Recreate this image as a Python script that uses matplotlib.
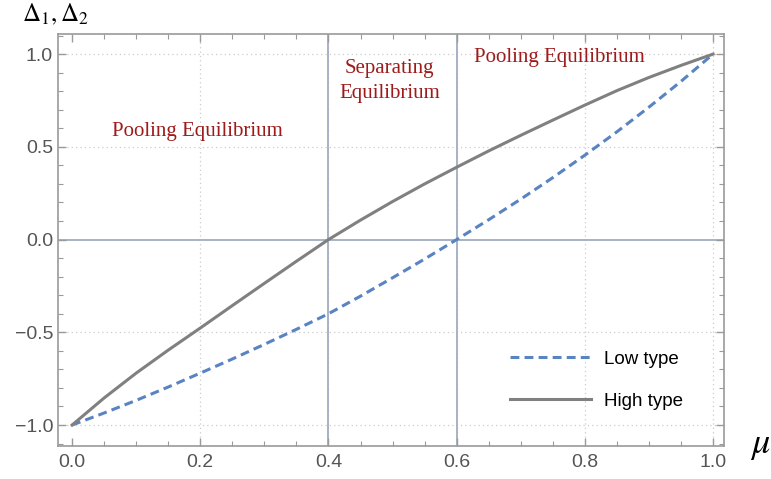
import matplotlib
matplotlib.use("Agg")
import matplotlib.pyplot as plt
from matplotlib.ticker import MultipleLocator

plt.rcParams["mathtext.fontset"] = "stix"

# values (mu on x axis)
mu = [0.0, 0.05, 0.1, 0.15, 0.2, 0.25, 0.3, 0.35, 0.4, 0.45, 0.5,
      0.55, 0.6, 0.65, 0.7, 0.75, 0.8, 0.85, 0.9, 0.95, 1.0]
high_type = [-1.0, -0.854, -0.72, -0.596, -0.477, -0.356, -0.236, -0.117, 0.0, 0.105, 0.205,
             0.30, 0.39, 0.478, 0.562, 0.644, 0.725, 0.803, 0.874, 0.939, 1.0]
low_type = [-1.0, -0.935, -0.867, -0.795, -0.72, -0.644, -0.565, -0.484, -0.40, -0.305, -0.206,
            -0.105, 0.0, 0.107, 0.218, 0.334, 0.455, 0.581, 0.714, 0.853, 1.0]
thresholds = [0.4, 0.6]
region_labels = ["Pooling Equilibrium", "Separating\nEquilibrium", "Pooling Equilibrium"]
region_pos = [(0.195, 0.58), (0.495, 0.855), (0.76, 0.98)]

frame_col = "#9a9a9a"
tick_col = "#555555"
line_col = "#a7b3c4"
red = "#9e1b1b"
sans = ["Liberation Sans", "DejaVu Sans"]
serif = ["Liberation Serif", "DejaVu Serif"]

fig = plt.figure(figsize=(7.71, 4.79), dpi=100)
ax = fig.add_axes([0.0752, 0.0689, 0.8638, 0.860])

ax.set_xlim(-0.022, 1.017)
ax.set_ylim(-1.113, 1.108)

# dotted grid
for gx in [0.2, 0.4, 0.6, 0.8, 1.0]:
    ax.axvline(gx, color="#cccccc", lw=0.9, ls=(0, (1, 2.5)), zorder=0)
for gy in [-1.0, -0.5, 0.5, 1.0]:
    ax.axhline(gy, color="#cccccc", lw=0.9, ls=(0, (1, 2.5)), zorder=0)

ax.axhline(0, color=line_col, lw=1.4, zorder=1)
for t in thresholds:
    ax.axvline(t, color=line_col, lw=1.4, zorder=1)

ax.plot(mu, low_type, color="#5a83c2", lw=2.2, ls=(0, (2.9, 1.7)), label="Low type", zorder=3)
ax.plot(mu, high_type, color="#808080", lw=2.2, label="High type", zorder=3)

for txt, (tx, ty) in zip(region_labels, region_pos):
    ax.text(tx, ty, txt, color=red, family=serif, fontsize=15, ha="center", va="center",
            linespacing=1.4)

ax.set_xticks([0.0, 0.2, 0.4, 0.6, 0.8, 1.0])
ax.set_yticks([-1.0, -0.5, 0.0, 0.5, 1.0])
ax.xaxis.set_minor_locator(MultipleLocator(0.05))
ax.yaxis.set_minor_locator(MultipleLocator(0.1))
ax.tick_params(which="both", direction="in", top=True, right=True, color=frame_col,
               labelcolor=tick_col, labelsize=14)
ax.tick_params(which="major", length=6, width=1)
ax.tick_params(which="minor", length=3.5, width=0.8)
ax.tick_params(axis="x", pad=6)
ax.set_xticklabels(["0.0", "0.2", "0.4", "0.6", "0.8", "1.0"], family=sans)
ax.set_yticklabels(["\u22121.0", "\u22120.5", "0.0", "0.5", "1.0"], family=sans)
for sp in ax.spines.values():
    sp.set_color(frame_col)
    sp.set_linewidth(1.2)

fig.text(0.0285, 0.969, r"$\Delta_1, \Delta_2$", fontsize=18, ha="left", va="center")
fig.text(0.986, 0.071, r"$\mu$", fontsize=26, ha="center", va="center")

leg = ax.legend(loc="upper left", bbox_to_anchor=(0.6787, 0.231), frameon=False,
                prop={"family": sans, "size": 13.5}, handlelength=4.3, labelspacing=1.32,
                handletextpad=0.7, borderpad=0, borderaxespad=0)

fig.savefig("out.png", dpi=100)
